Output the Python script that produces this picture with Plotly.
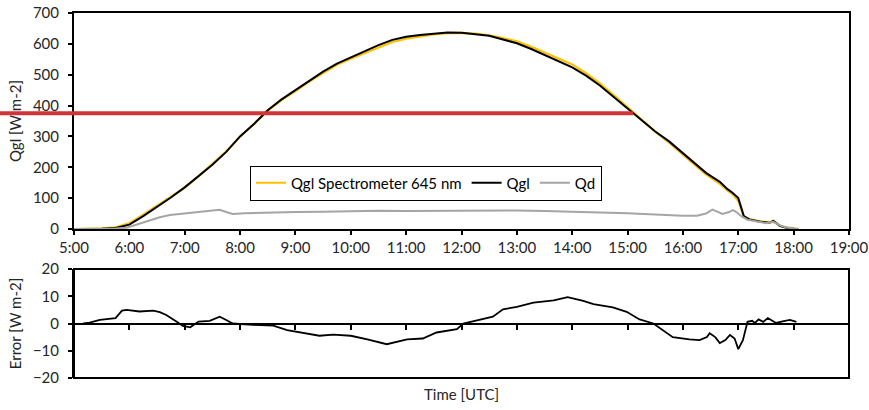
import plotly.graph_objects as go

DAY = "2019-06-21 "

# Global irradiance: reference pyranometer (Qgl) and spectrometer estimate at 645 nm
top_time = ["5:00", "5:15", "5:30", "5:45", "6:00", "6:15", "6:30", "6:45", "7:00", "7:15",
            "7:30", "7:45", "8:00", "8:15", "8:30", "8:45", "9:00", "9:15", "9:30", "9:45",
            "10:00", "10:15", "10:30", "10:45", "11:00", "11:15", "11:30", "11:45", "12:00", "12:15",
            "12:30", "12:45", "13:00", "13:15", "13:30", "13:45", "14:00", "14:15", "14:30", "14:45",
            "15:00", "15:15", "15:30", "15:45", "16:00", "16:15", "16:25", "16:32", "16:40", "16:48",
            "16:54", "17:00", "17:03", "17:06", "17:12", "17:23", "17:34", "17:38", "17:45", "17:52",
            "18:00", "18:05"]
qgl = [0, 0, 1, 3, 14, 42, 72, 102, 135, 170,
       208, 250, 300, 340, 385, 420, 450, 482, 510, 536,
       556, 575, 596, 613, 623, 629, 634, 637, 636, 632,
       626, 614, 602, 584, 564, 545, 524, 497, 465, 428,
       390, 352, 316, 284, 245, 208, 182, 168, 153, 130,
       117, 100, 70, 42, 31, 24, 20, 26, 10, 4,
       1, 0]
qgl_spec = [0, 0, 2, 5, 19, 46.5, 76.5, 104, 134, 170.5,
            209.5, 251.5, 300, 339.5, 384, 418, 447, 478, 505.5, 532,
            551.5, 569.5, 589, 606, 617, 623.5, 630.5, 634.5, 635.5, 633,
            628, 619, 608, 591.5, 572, 554, 533.5, 505, 471.7, 433.8,
            394.3, 353.2, 315.7, 280, 239.5, 202, 177, 163.5, 146, 125,
            112, 91, 63, 39, 32, 25, 21.5, 26.5, 10.5, 5,
            2, 0]

# Diffuse irradiance
qd_time = ["5:00", "5:30", "5:45", "5:57", "6:15", "6:33", "6:44", "7:00", "7:20", "7:38",
           "7:45", "7:52", "8:05", "8:22", "9:00", "9:30", "10:00", "10:30", "11:00", "11:30",
           "12:00", "12:30", "13:00", "13:30", "14:00", "14:30", "15:00", "15:30", "15:46", "16:00",
           "16:15", "16:25", "16:32", "16:38", "16:43", "16:50", "16:54", "16:58", "17:04", "17:10",
           "17:20", "17:30", "17:38", "17:45", "17:52", "18:00", "18:05"]
qd = [0, 0.5, 2, 4, 20, 38, 45, 50, 56, 62,
      55, 49, 51, 53, 55, 56, 58, 59, 58, 59,
      60, 59, 60, 58, 56, 53, 51, 47, 44, 43,
      43, 50, 63, 55, 49, 55, 61, 55, 40, 30,
      24, 19, 23, 12, 5, 1, 0]

# Spectrometer minus reference
err_time = ["5:10", "5:17", "5:28", "5:39", "5:45", "5:52", "5:57", "6:11", "6:26", "6:33",
            "6:40", "6:51", "6:58", "7:06", "7:15", "7:27", "7:38", "7:45", "7:52", "8:14",
            "8:36", "8:51", "9:05", "9:26", "9:41", "10:00", "10:18", "10:39", "11:01", "11:18",
            "11:33", "11:55", "12:02", "12:20", "12:34", "12:45", "13:00", "13:18", "13:40", "13:55",
            "14:12", "14:23", "14:30", "14:44", "14:59", "15:13", "15:28", "15:43", "15:49", "16:07",
            "16:18", "16:26", "16:29", "16:35", "16:40", "16:46", "16:51", "16:56", "17:00", "17:05",
            "17:10", "17:15", "17:18", "17:22", "17:27", "17:32", "17:41", "17:48", "17:56", "18:03"]
err = [0, 0.3, 1.3, 1.9, 2.0, 4.7, 5.0, 4.4, 4.7, 4.2,
       3.1, 0.7, -0.9, -1.4, 0.7, 1.0, 2.5, 1.3, 0.0, -0.5,
       -0.8, -2.4, -3.3, -4.5, -4.1, -4.5, -5.8, -7.6, -5.8, -5.5,
       -3.3, -2.1, 0.0, 1.3, 2.5, 5.2, 6.1, 7.7, 8.5, 9.7,
       8.3, 7.1, 6.7, 5.9, 4.3, 1.5, 0.0, -3.6, -5.0, -5.8,
       -6.1, -5.0, -3.6, -5.0, -7.2, -6.1, -4.2, -5.5, -9.4, -6.1,
       0.6, 1.0, 0.2, 1.5, 0.6, 2.0, 0.2, 0.8, 1.3, 0.6]

threshold = 375
x_start, x_end = "5:00", "19:00"
qgl_range = [0, 700]
qgl_ticks = [0, 100, 200, 300, 400, 500, 600, 700]
err_ticks = [-20, -10, 0, 10, 20]


def stamp(t):
    h, m = t.split(":")
    return f"{DAY}{int(h):02d}:{m}"


def minutes(t):
    h, m = t.split(":")
    return int(h) * 60 + int(m)


def descending_crossing(times, values, level):
    # afternoon time (minutes) at which the curve falls through `level`
    peak = values.index(max(values))
    for i in range(peak, len(values) - 1):
        if values[i] >= level > values[i + 1]:
            t0, t1 = minutes(times[i]), minutes(times[i + 1])
            f = (values[i] - level) / (values[i] - values[i + 1])
            return t0 + f * (t1 - t0)
    return minutes(times[-1])


W, H = 869, 410
ML, MR, MT, MB = 74, 20, 13, 32
plot_w, plot_h = W - ML - MR, H - MT - MB
top_dom = [(H - MB - 229) / plot_h, 1.0]
bot_dom = [0.0, (H - MB - 269) / plot_h]
zero_pos = bot_dom[0] + (bot_dom[1] - bot_dom[0]) * 0.5

FONT = "Lato, 'Open Sans', sans-serif"
TXT = "#262626"
FS = 15

fig = go.Figure()
fig.add_trace(go.Scatter(x=[stamp(t) for t in top_time], y=qgl_spec, mode="lines",
                         name="Qgl Spectrometer 645 nm", line=dict(color="#FFC000", width=2.2),
                         xaxis="x", yaxis="y"))
fig.add_trace(go.Scatter(x=[stamp(t) for t in top_time], y=qgl, mode="lines",
                         name="Qgl", line=dict(color="#000000", width=2),
                         xaxis="x", yaxis="y"))
fig.add_trace(go.Scatter(x=[stamp(t) for t in qd_time], y=qd, mode="lines",
                         name="Qd", line=dict(color="#A5A5A5", width=2),
                         xaxis="x", yaxis="y"))
fig.add_trace(go.Scatter(x=[stamp(t) for t in err_time], y=err, mode="lines",
                         name="Error", showlegend=False, line=dict(color="#000000", width=1.8),
                         xaxis="x2", yaxis="y2"))

xrange = [stamp(x_start), stamp(x_end)]
tick_font = dict(family=FONT, size=FS, color=TXT)
axis_common = dict(showline=True, linecolor="#000000", linewidth=2, ticks="outside",
                   ticklen=4, tickwidth=2, tickcolor="#000000", showgrid=False, zeroline=False,
                   tickfont=tick_font, automargin=False)

fig.update_layout(
    width=W, height=H,
    margin=dict(l=ML, r=MR, t=MT, b=MB),
    paper_bgcolor="white", plot_bgcolor="white",
    font=dict(family=FONT, size=FS, color=TXT),
    xaxis=dict(axis_common, type="date", range=xrange, domain=[0, 1], anchor="y",
               dtick=3600000, tick0=stamp(x_start), tickformat="%-H:%M", mirror=True),
    yaxis=dict(axis_common, range=qgl_range, domain=top_dom, anchor="x",
               tickvals=qgl_ticks, mirror=True, ticklabelstandoff=6,
               title=dict(text="Qgl [W m-2]", font=tick_font, standoff=8)),
    # error panel: the time axis runs along the zero level, ticks only
    xaxis2=dict(type="date", range=xrange, domain=[0, 1], anchor="free", position=zero_pos,
                matches="x", dtick=3600000, tick0=stamp(x_start), automargin=False,
                showline=True, linecolor="#000000", linewidth=2, ticks="outside", ticklen=5,
                tickwidth=2, tickcolor="#000000", showticklabels=False, showgrid=False,
                zeroline=False),
    yaxis2=dict(axis_common, range=[-20, 20], domain=bot_dom, anchor="x2",
                tickvals=err_ticks, ticklabelstandoff=6,
                title=dict(text="Error [W m-2]", font=tick_font, standoff=8)),
    legend=dict(orientation="h", x=(250 - ML) / plot_w, xanchor="left",
                y=(H - MB - 183) / plot_h, yanchor="middle",
                bgcolor="white", bordercolor="#000000", borderwidth=1,
                font=dict(family=FONT, size=FS, color="#000000"),
                itemwidth=30, tracegroupgap=0),
    showlegend=True,
    annotations=[dict(text="Time [UTC]", xref="paper", yref="paper", x=0.5, y=-0.045,
                      xanchor="center", yanchor="middle", showarrow=False, font=tick_font)],
)

# frame around the error panel
fig.add_shape(type="rect", xref="x2 domain", yref="y2 domain", x0=0, x1=1, y0=0, y1=1,
              line=dict(color="#000000", width=2), layer="above")

# Highlight of the threshold level, from the page edge to the afternoon crossing of Qgl
span = minutes(x_end) - minutes(x_start)
cross_frac = (descending_crossing(top_time, qgl, threshold) - minutes(x_start)) / span
level_frac = top_dom[0] + (top_dom[1] - top_dom[0]) * (threshold - qgl_range[0]) / (qgl_range[1] - qgl_range[0])
fig.add_shape(type="line", xref="paper", yref="paper", x0=-ML / plot_w, x1=cross_frac,
              y0=level_frac, y1=level_frac, line=dict(color="#D13438", width=4), layer="above")

fig.write_html("out.html")
